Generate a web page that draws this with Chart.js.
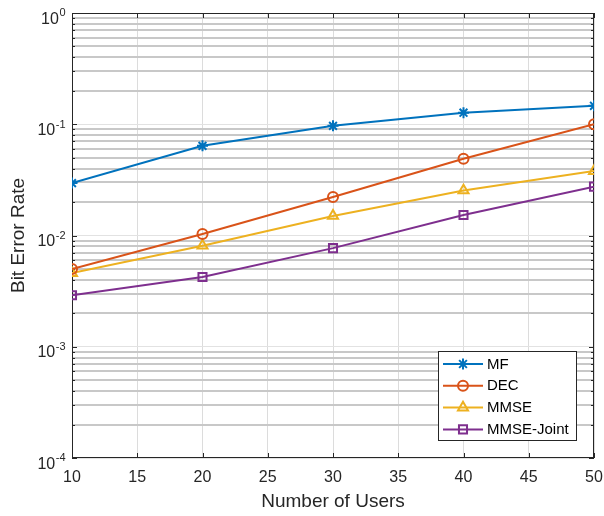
<!DOCTYPE html>
<html><head><meta charset="utf-8">
<script src="https://cdn.jsdelivr.net/npm/chart.js@4/dist/chart.umd.min.js"></script>
<style>html,body{margin:0;padding:0;background:#fff}canvas{display:block}</style>
</head><body>
<canvas id="c" width="604" height="516"></canvas>
<script>
const users = [10, 20, 30, 40, 50];
const mf = [0.0296, 0.0640, 0.0968, 0.127, 0.1465];
const dec = [0.0050, 0.0103, 0.0222, 0.0490, 0.100];
const mmse = [0.0046, 0.0081, 0.0150, 0.0254, 0.0380];
const mmseJoint = [0.0029, 0.00424, 0.0077, 0.0153, 0.0275];
const seriesNames = ['MF', 'DEC', 'MMSE', 'MMSE-Joint'];
const xTicks = [10, 15, 20, 25, 30, 35, 40, 45, 50];
const yDecades = [-4, -3, -2, -1, 0];

const FONT = "'Liberation Sans', Arial, sans-serif";
const INK = '#262626';

const yAll = [];
yDecades.forEach((e, i) => {
  const base = Math.pow(10, e);
  yAll.push({value: base, major: true});
  if (i < yDecades.length - 1) for (let m = 2; m <= 9; m++) yAll.push({value: m * base, major: false});
});
const isMajor = v => Math.abs(Math.log10(v) - Math.round(Math.log10(v))) < 1e-9;

const mk = (label, arr, color, style, r) => ({
  label, data: users.map((u, i) => ({x: u, y: arr[i]})),
  borderColor: color, backgroundColor: color, borderWidth: 2,
  pointStyle: style, pointRadius: r, pointHoverRadius: r,
  pointBorderColor: color, pointBackgroundColor: 'rgba(0,0,0,0)', pointBorderWidth: 2,
  tension: 0, fill: false
});

const frame = {
  id: 'frame',
  afterDraw(chart) {
    const {ctx} = chart;
    const ys = chart.scales.y;
    ctx.save();
    ctx.fillStyle = INK;
    ctx.textBaseline = 'alphabetic';
    ctx.textAlign = 'left';
    yDecades.forEach(e => {
      const py = ys.getPixelForValue(Math.pow(10, e));
      const base = '10', ex = String(e);
      ctx.font = '16px ' + FONT;
      const wb = ctx.measureText(base).width;
      ctx.font = '11px ' + FONT;
      const we = ctx.measureText(ex).width;
      const x0 = 65 - wb - we;
      ctx.font = '16px ' + FONT;
      ctx.fillText(base, x0, py + 10.5);
      ctx.font = '11px ' + FONT;
      ctx.fillText(ex, x0 + wb + 0.5, py + 3.3);
    });
    ctx.restore();
  },
  beforeDatasetsDraw(chart) {
    const {ctx, chartArea: a} = chart;
    const xs = chart.scales.x, ys = chart.scales.y;
    ctx.save();
    ctx.strokeStyle = INK; ctx.lineWidth = 1;
    ctx.beginPath();
    xTicks.forEach(v => {
      const px = Math.round(xs.getPixelForValue(v)) + 0.5;
      ctx.moveTo(px, a.bottom); ctx.lineTo(px, a.bottom - 5);
      ctx.moveTo(px, a.top); ctx.lineTo(px, a.top + 5);
    });
    yAll.forEach(t => {
      const py = Math.round(ys.getPixelForValue(t.value)) + 0.5;
      const L = t.major ? 5 : 3;
      ctx.moveTo(a.left, py); ctx.lineTo(a.left + L, py);
      ctx.moveTo(a.right, py); ctx.lineTo(a.right - L, py);
    });
    ctx.stroke();
    ctx.strokeRect(a.left + 0.5, a.top + 0.5, a.right - a.left - 1, a.bottom - a.top - 1);
    ctx.restore();
  },
  afterDatasetsDraw(chart) {
    const {ctx} = chart;
    const bx = 438.5, by = 351.5, bw = 138, bh = 89;
    ctx.save();
    ctx.fillStyle = '#fff'; ctx.fillRect(bx, by, bw, bh);
    ctx.strokeStyle = INK; ctx.lineWidth = 1; ctx.strokeRect(bx, by, bw, bh);
    chart.data.datasets.forEach((ds, i) => {
      const y = 364 + i * 21.8;
      ctx.strokeStyle = ds.borderColor; ctx.lineWidth = 2;
      ctx.beginPath(); ctx.moveTo(443, y); ctx.lineTo(483, y); ctx.stroke();
      ctx.fillStyle = 'rgba(0,0,0,0)';
      ctx.strokeStyle = ds.borderColor; ctx.lineWidth = 2;
      Chart.helpers.drawPoint(ctx, {pointStyle: ds.pointStyle, radius: ds.pointRadius, rotation: 0, borderWidth: 2}, 463, y);
      ctx.fillStyle = '#000'; ctx.font = '15px ' + FONT; ctx.textBaseline = 'middle'; ctx.textAlign = 'left';
      ctx.fillText(ds.label, 487, y + 0.5);
    });
    ctx.restore();
  }
};

new Chart(document.getElementById('c'), {
  type: 'line',
  data: {datasets: [
    mk(seriesNames[0], mf, '#0072BD', 'star', 5.5),
    mk(seriesNames[1], dec, '#D95319', 'circle', 5),
    mk(seriesNames[2], mmse, '#EDB120', 'triangle', 5.8),
    mk(seriesNames[3], mmseJoint, '#7E2F8E', 'rect', 5.7)
  ]},
  options: {
    responsive: false, animation: false, devicePixelRatio: 1,
    layout: {padding: {top: 13, right: 10, left: 0, bottom: 0}},
    plugins: {legend: {display: false}, tooltip: {enabled: false}},
    scales: {
      x: {
        type: 'linear', min: 10, max: 50,
        afterBuildTicks: s => { s.ticks = xTicks.map(v => ({value: v})); },
        afterFit: s => { s.height = 58; s.paddingLeft = 0; s.paddingRight = 0; },
        ticks: {font: {family: FONT, size: 16}, color: INK, padding: 10, maxRotation: 0, autoSkip: false},
        grid: {color: '#dcdcdc', lineWidth: 1, drawTicks: false},
        border: {display: false},
        title: {display: true, text: 'Number of Users', font: {family: FONT, size: 19}, color: INK, padding: {top: 0, bottom: 3}}
      },
      y: {
        type: 'logarithmic', min: 1e-4, max: 1,
        afterBuildTicks: s => { s.ticks = yAll.map(t => ({value: t.value, major: t.major})); },
        afterFit: s => { s.width = 72; s.paddingTop = 0; s.paddingBottom = 0; },
        ticks: {display: false, autoSkip: false},
        grid: {
          drawTicks: false,
          color: c => (c.tick && isMajor(c.tick.value)) ? '#e2e2e2' : '#c8c8c8',
          lineWidth: c => (c.tick && isMajor(c.tick.value)) ? 1 : 2
        },
        border: {display: false},
        title: {display: true, text: 'Bit Error Rate', font: {family: FONT, size: 19}, color: INK, padding: {top: 7, bottom: 0}}
      }
    }
  },
  plugins: [frame]
});
</script>
</body></html>
